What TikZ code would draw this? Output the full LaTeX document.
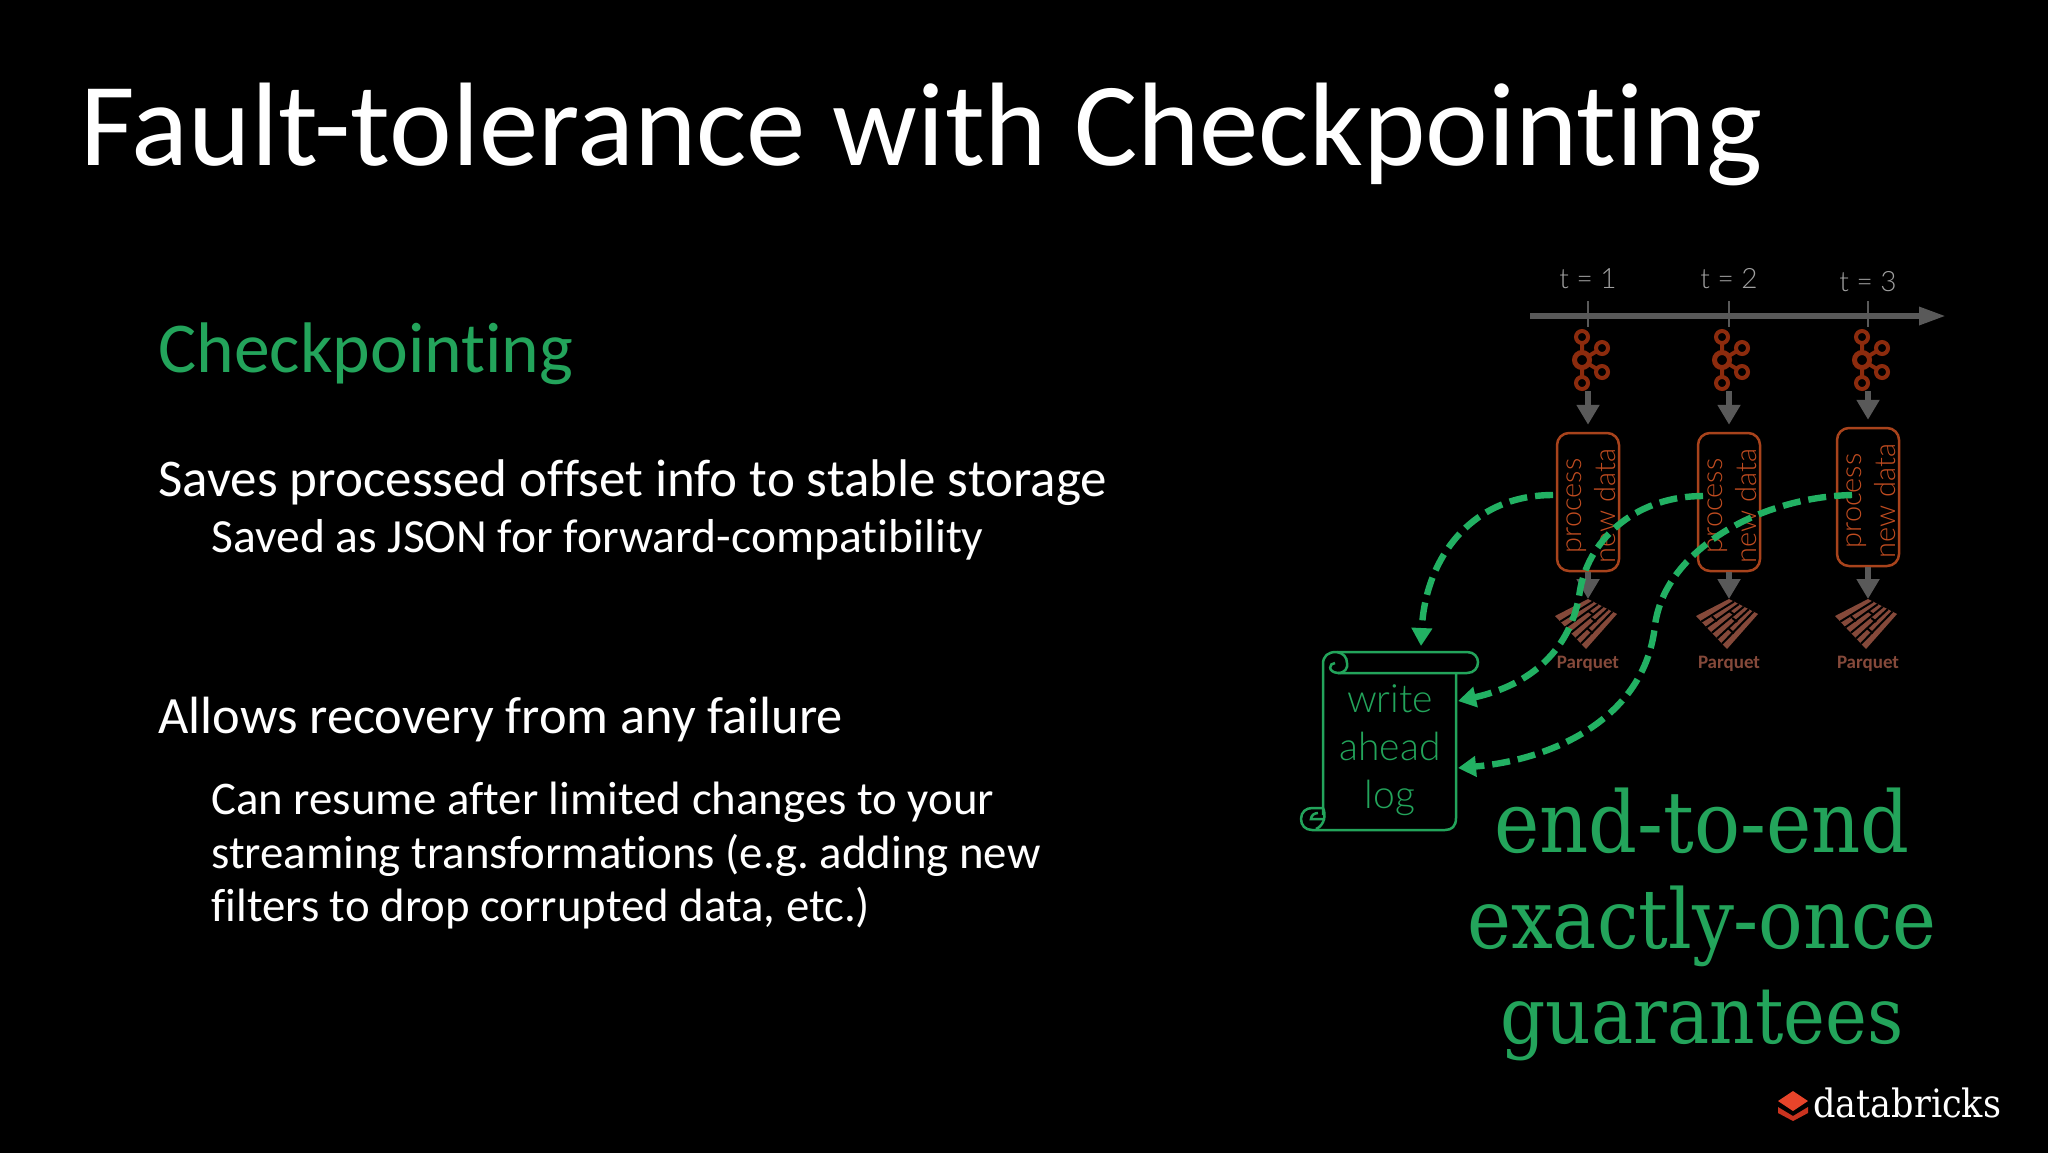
\documentclass[tikz,border=0pt]{standalone}
\usepackage{fontspec}
\setmainfont[Ligatures=NoCommon]{Carlito}
\newfontfamily\slabfont{DejaVu Serif Condensed}
\newfontfamily\thinfont{Lato Light}
\usetikzlibrary{arrows.meta,calc}
\frenchspacing

\definecolor{bggreen}{HTML}{23A45B}
\definecolor{dashgreen}{HTML}{22B163}
\definecolor{axisgray}{HTML}{595959}
\definecolor{labelgray}{HTML}{A0A0A0}
\definecolor{kafkared}{HTML}{8C2B0D}
\definecolor{procred}{HTML}{A8431C}
\definecolor{proctextred}{HTML}{C04C20}
\definecolor{pqbrown}{HTML}{85493A}
\definecolor{logotop}{HTML}{E8442A}
\definecolor{logolow}{HTML}{C9331F}

\tikzset{
  textline/.style={anchor=base west,text=white,inner sep=0pt,font=\fontsize{26.5}{30}\selectfont},
  subline/.style={textline,font=\fontsize{23.4}{28}\selectfont},
  bigline/.style={anchor=base,inner sep=0pt,text=bggreen},
  tlabel/.style={anchor=base,inner sep=0pt,text=labelgray,font=\thinfont\fontsize{14}{18}\selectfont},
  procbox/.style={draw=procred,line width=1.25pt,rounded corners=6pt,minimum width=31pt,minimum height=69pt,inner sep=0pt},
  grayarrow/.style={draw=axisgray,line width=3pt,-{Triangle[length=10pt,width=11pt]}},
  walarrow/.style={draw=dashgreen,line width=3.2pt,dash pattern=on 9pt off 4pt,-{Triangle[length=9pt,width=10pt]}},
  scrollline/.style={draw=bggreen,line width=1.25pt},
  kafka/.pic={
    \draw[kafkared,line width=2pt] (0,-23) -- (0,23) (0,0) -- (20,-12) (0,0) -- (20,12);
    \foreach \a/\b in {0/-23,0/23,20/-12,20/12}
      \draw[kafkared,line width=2pt,fill=black] (\a,\b) circle[radius=6];
    \draw[kafkared,line width=2.5pt,fill=black] (0,0) circle[radius=7.5];
  },
  parquet/.pic={
    \coordinate (T) at (0,0);
    \coordinate (R) at (29,15);
    \coordinate (B) at (-2,50);
    \coordinate (L) at (-33,17);
    \fill[pqbrown] (T) -- (R) -- (B) -- (L) -- cycle;
    % gaps between the planks
    \foreach \s in {0.17,0.34,0.51,0.68,0.84}
      \draw[black,line width=1pt] ($(L)!\s!(B)$) -- ($(T)!\s!(R)$);
    \foreach \s/\t in {0.2/0.3,0.55/0.6,0.35/0.7,0.7/0.35}
      \draw[black,line width=1pt] ($($(L)!\s!(B)$)!\t!($(T)!\s!(R)$)$) -- ($($(L)!\s+0.17!(B)$)!\t!($(T)!\s+0.17!(R)$)$);
  }
}

\begin{document}
\begin{tikzpicture}[x=0.5pt,y=-0.5pt]
\useasboundingbox (0,0) rectangle (2048,1152);
\fill[black] (-5,-5) rectangle (2053,1157);

% title and left column
\node[textline,font=\fontsize{59.4}{64}\selectfont] (title) at (80,165) {Fault-tolerance with Checkpointing};
\node[textline,text=bggreen,font=\fontsize{35.8}{40}\selectfont] (head) at (158,372) {Checkpointing};
\node[textline] (saves) at (158,496) {Saves processed offset info to stable storage};
\node[subline,font=\fontsize{23.8}{28}\selectfont] (json) at (211,552) {Saved as JSON for forward-compatibility};
\node[textline,font=\fontsize{26.2}{30}\selectfont] (allows) at (158,733) {Allows recovery from any failure};
\node[subline] (resume) at (211,814) {Can resume after limited changes to your};
\node[subline] (streaming) at (211,868) {streaming transformations (e.g. adding new};
\node[subline] (filters) at (211,921) {filters to drop corrupted data, etc.)};

% time axis
\coordinate (axisstart) at (1530,316);
\coordinate (axisend) at (1946,316);
\draw[axisgray,line width=3pt,-{Triangle[length=13.5pt,width=8.5pt]}] (axisstart) -- (axisend);

% one column for each trigger
\foreach \i/\x/\k/\ytop/\lab/\ylab in {1/1588/1582/502/1/288,2/1729/1722/502/2/288,3/1868/1862/497/3/291}{
  \node[tlabel] (t\i) at (\x,\ylab) {t = \lab};
  \coordinate (tick\i) at (\x,301);
  \draw[axisgray,line width=1.25pt] (tick\i) -- ++(0,26);
  \pic at (\k,360) {kafka};
  \coordinate (kafka\i) at (\x,391);
  \node[procbox] (proc\i) at (\x,\ytop) {};
  \node[rotate=90,align=center,inner sep=0pt,text=proctextred,font=\thinfont\fontsize{14.5}{17}\selectfont] (proctext\i) at ($(proc\i)+(3,4)$) {process\\new data};
  \coordinate (pq\i) at (\x,599);
  \pic at (pq\i) {parquet};
  \node[anchor=base,inner sep=0pt,text=pqbrown,font=\bfseries\fontsize{9.5}{11}\selectfont] (pqlabel\i) at (\x,668) {Parquet};
  \draw[grayarrow,shorten >=3.5pt] (kafka\i) -- (proc\i.north);
  \draw[grayarrow] (proc\i.south) -- (pq\i);
}

% write ahead log scroll
\node[inner sep=0pt,minimum width=66pt,minimum height=78pt,align=center,text=bggreen,font=\thinfont\fontsize{19.5}{24}\selectfont] (wal) at (1390,750) {write\\ahead\\log};
\draw[scrollline] (1323,815) -- (1323,664) .. controls (1323,656) and (1328,652) .. (1336,652) -- (1467,652)
  .. controls (1474,652) and (1478,657) .. (1478,662) .. controls (1478,668) and (1474,673) .. (1467,673) -- (1338,673);
\draw[scrollline] (1335,663) .. controls (1329,663) and (1327,672) .. (1338,673)
  .. controls (1345,673) and (1348,668) .. (1347,663) .. controls (1347,657) and (1343,653) .. (1337,652);
\draw[scrollline] (1456,673) -- (1456,818) .. controls (1456,826) and (1452,830) .. (1445,830) -- (1312,830)
  .. controls (1305,830) and (1301,825) .. (1301,819) .. controls (1301,812) and (1306,808) .. (1312,808) -- (1323,808);
\draw[scrollline] (1323,808) .. controls (1326,814) and (1325,825) .. (1316,829);
\draw[scrollline] (1323,819) -- (1311,819) .. controls (1311,815) and (1315,813) .. (1318,813);

% checkpoint arrows
\coordinate (logtop) at (1421,646);
\coordinate (logmid) at (1458,701);
\coordinate (loglow) at (1458,768);
\coordinate (from1) at (1553,495);
\coordinate (from2) at (1703,496);
\coordinate (from3) at (1852,495);
\draw[walarrow] (from1) .. controls (1470,495) and (1425,560) .. (logtop);
\draw[walarrow] (from2) .. controls (1640,496) and (1590,535) .. (1580,590) .. controls (1572,650) and (1530,685) .. (logmid);
\draw[walarrow] (from3) .. controls (1760,497) and (1665,550) .. (1655,625) .. controls (1645,720) and (1550,760) .. (loglow);

% guarantee text
\node[bigline,font=\slabfont\fontsize{42.5}{46}\selectfont] (g1) at (1702,852) {end-to-end};
\node[bigline,font=\slabfont\fontsize{41.2}{46}\selectfont] (g2) at (1702,948) {exactly-once};
\node[bigline,font=\slabfont\fontsize{39.3}{46}\selectfont] (g3) at (1702,1043) {guarantees};

% logo
\fill[logotop] (1793,1091) -- (1808,1101) -- (1793,1111) -- (1778,1101) -- cycle;
\fill[logolow] (1778,1107) -- (1793,1116) -- (1808,1107) -- (1808,1113) -- (1793,1121) -- (1778,1113) -- cycle;
\node[anchor=base west,inner sep=0pt,text=white,font=\slabfont\fontsize{19.5}{22}\selectfont] (logo) at (1813,1117) {databricks};
\end{tikzpicture}
\end{document}
